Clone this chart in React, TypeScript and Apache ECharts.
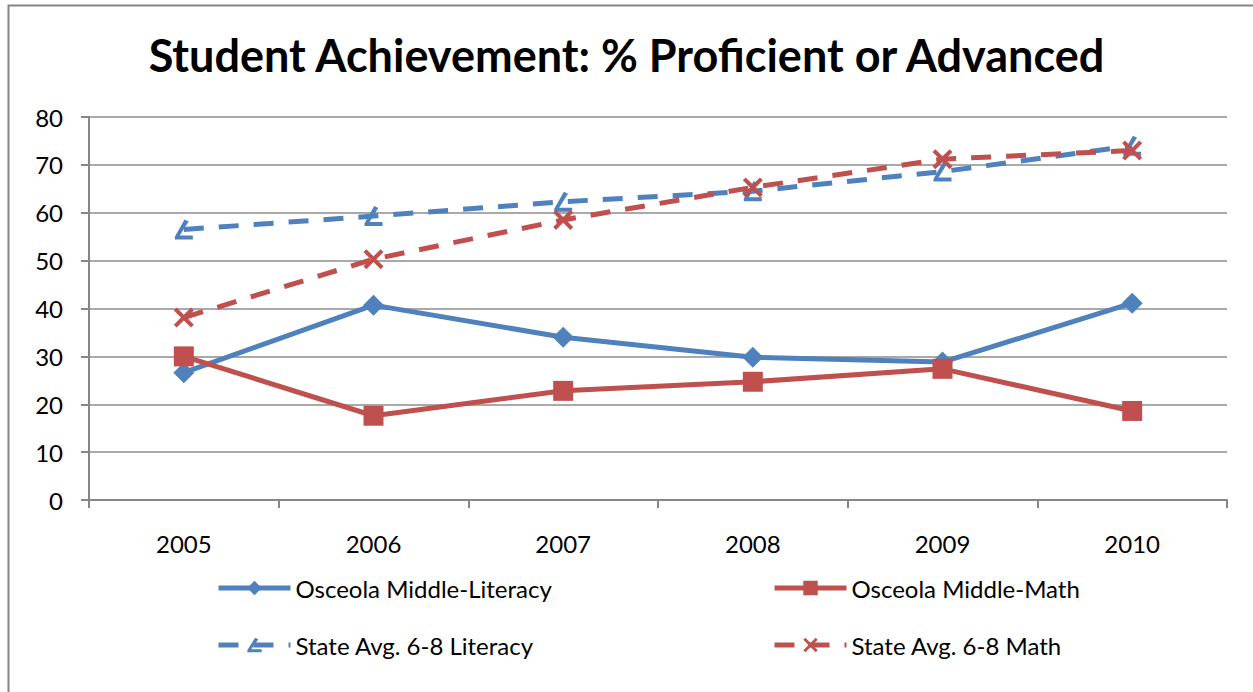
import React, { useEffect, useRef } from "react";
import * as echarts from "echarts";

const years = ["2005", "2006", "2007", "2008", "2009", "2010"];
const osceolaLiteracy = [26.6, 40.7, 34.0, 29.8, 28.8, 41.1];
const osceolaMath = [30.0, 17.6, 22.8, 24.7, 27.4, 18.6];
const stateLiteracy = [56.5, 59.3, 62.3, 64.5, 68.6, 74.0];
const stateMath = [38.1, 50.3, 58.5, 65.3, 71.2, 73.0];
const yTicks = [0, 10, 20, 30, 40, 50, 60, 70, 80];

const BLUE = "#4F81BD";
const RED = "#C0504D";
const FONT = "Lato";

const X_PATH = "path://M2,0 L7,5 L12,0 L14,2 L9,7 L14,12 L12,14 L7,9 L2,14 L0,12 L5,7 L0,2 Z";
const TRI_PATH = "path://M7,0 L10,1.5 L3.6,12 L13,12 L13,15 L0,15 L0,13 Z";

export default function App() {
  const ref = useRef<HTMLDivElement>(null);
  useEffect(() => {
    if (!ref.current) return;
    const chart = echarts.init(ref.current, null, { renderer: "svg" });
    const legendText = { fontFamily: FONT, fontSize: 24, color: "#000" };
    const mkLegend = (name: string, left: number, top: number) => ({
      data: [name],
      left,
      top,
      padding: 0,
      itemWidth: 72,
      itemHeight: 18,
      itemGap: 6,
      lineStyle: { width: 5 },
      textStyle: legendText,
    });
    chart.setOption({
      animation: false,
      backgroundColor: "#fff",
      title: {
        text: "Student Achievement: % Proficient or Advanced",
        left: "center",
        top: 27,
        textStyle: { fontFamily: FONT, fontSize: 45, fontWeight: "bold", color: "#000" },
      },
      graphic: [
        {
          type: "rect",
          shape: { x: 8.5, y: 5.5, width: 1300, height: 800 },
          style: { fill: "none", stroke: "#868686", lineWidth: 2 },
          silent: true,
        },
      ],
      legend: [
        mkLegend("Osceola Middle-Literacy", 216, 576),
        mkLegend("Osceola Middle-Math", 772, 576),
        mkLegend("State Avg. 6-8 Literacy", 216, 633),
        mkLegend("State Avg. 6-8 Math", 772, 633),
      ],
      grid: { left: 89, right: 26, top: 117, bottom: 192, containLabel: false },
      xAxis: {
        type: "category",
        data: years,
        boundaryGap: true,
        axisLine: { lineStyle: { color: "#868686", width: 2 } },
        axisTick: { show: true, length: 8, lineStyle: { color: "#868686", width: 2 } },
        axisLabel: { fontFamily: FONT, fontSize: 24, color: "#000", margin: 31 },
      },
      yAxis: {
        type: "value",
        min: yTicks[0],
        max: yTicks[yTicks.length - 1],
        interval: 10,
        axisLine: { show: true, lineStyle: { color: "#868686", width: 2 } },
        axisTick: { show: true, length: 8, lineStyle: { color: "#868686", width: 2 } },
        axisLabel: { fontFamily: FONT, fontSize: 24, color: "#000", margin: 26 },
        splitLine: { lineStyle: { color: "#8c8c8c", width: 1.5 } },
      },
      series: [
        {
          name: "Osceola Middle-Literacy",
          type: "line",
          data: osceolaLiteracy,
          color: BLUE,
          lineStyle: { width: 5, color: BLUE },
          symbol: "diamond",
          symbolSize: 21,
          itemStyle: { color: BLUE },
          z: 3,
        },
        {
          name: "Osceola Middle-Math",
          type: "line",
          data: osceolaMath,
          color: RED,
          lineStyle: { width: 5, color: RED },
          symbol: "rect",
          symbolSize: 20,
          itemStyle: { color: RED },
          z: 4,
        },
        {
          name: "State Avg. 6-8 Literacy",
          type: "line",
          data: stateLiteracy,
          color: BLUE,
          lineStyle: { width: 5, color: BLUE, type: [20, 15] },
          symbol: TRI_PATH,
          symbolSize: [18, 20],
          itemStyle: { color: BLUE },
          z: 2,
        },
        {
          name: "State Avg. 6-8 Math",
          type: "line",
          data: stateMath,
          color: RED,
          lineStyle: { width: 5, color: RED, type: [20, 15] },
          symbol: X_PATH,
          symbolSize: 20,
          itemStyle: { color: RED },
          z: 5,
        },
      ],
    });
    return () => chart.dispose();
  }, []);
  return (
    <div
      ref={ref}
      style={{ position: "absolute", left: 0, top: 0, width: 1253, height: 692 }}
    />
  );
}
